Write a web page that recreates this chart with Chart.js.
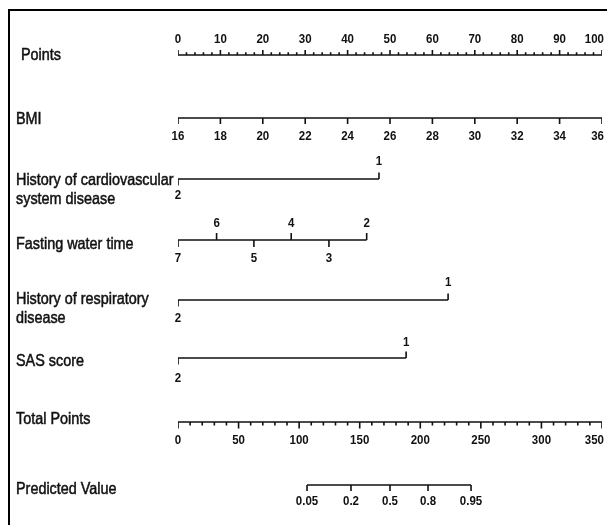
<!doctype html>
<html>
<head>
  <meta charset="utf-8" />
  <title>Nomogram</title>
  <style>
    html, body { margin:0; background:#fff; }
    #wrap { position:relative; width:607px; height:525px; overflow:hidden; }
    #frame { position:absolute; left:8px; top:9px; right:-4px; bottom:-4px;
             border-top:2px solid #000; border-left:2px solid #000; pointer-events:none; }
  </style>
</head>
<body>
  <div id="wrap">
    <canvas id="chart" width="607" height="525"></canvas>
    <div id="frame"></div>
  </div>

  <script src="https://cdn.jsdelivr.net/npm/chart.js@4.4.1/dist/chart.umd.min.js"></script>
  <script>
    // values (points scale 0-100, total points 0-350)
    const pointsTicks = [0, 10, 20, 30, 40, 50, 60, 70, 80, 90, 100];
    const bmiTicks = [16, 18, 20, 22, 24, 26, 28, 30, 32, 34, 36];
    const cardioLabels = ['1', '2'];
    const cardioPoints = [47.4, 0];
    const fastingLabels = ['7', '6', '5', '4', '3', '2'];
    const fastingPoints = [0, 9.1, 17.9, 26.7, 35.6, 44.5];
    const respLabels = ['1', '2'];
    const respPoints = [63.7, 0];
    const sasLabels = ['1', '2'];
    const sasPoints = [53.8, 0];
    const totalTicks = [0, 50, 100, 150, 200, 250, 300, 350];
    const predLabels = ['0.05', '0.2', '0.5', '0.8', '0.95'];
    const predTotal = [106.5, 142.8, 175, 206.4, 241.9];

    const rowTitles = [
      { lines: ['Points'], x: 21, y: [56] },
      { lines: ['BMI'], x: 16, y: [120] },
      { lines: ['History of cardiovascular', 'system disease'], x: 16, y: [181, 200] },
      { lines: ['Fasting water time'], x: 16, y: [245] },
      { lines: ['History of respiratory', 'disease'], x: 16, y: [300, 319] },
      { lines: ['SAS score'], x: 16, y: [362] },
      { lines: ['Total Points'], x: 16, y: [420] },
      { lines: ['Predicted Value'], x: 16, y: [490] }
    ];

    // layout per row: y of the axis line (pixels), tick side (-1 up, 1 down), lengths
    const up = n => Array(n).fill(-1), down = n => Array(n).fill(1);
    const rows = [
      { scale: 'x',  line: 55,  values: pointsTicks, text: pointsTicks.map(String), side: up(11), len: 5, offUp: 15,
        minor: { step: 2, len: 2.7 } },
      { scale: 'xb', line: 118, values: bmiTicks, text: bmiTicks.map(String), side: down(11), len: 6, offDown: 19 },
      { scale: 'x',  line: 179, values: cardioPoints, text: cardioLabels, side: [-1, 1], len: 6.5, offUp: 17, offDown: 17 },
      { scale: 'x',  line: 240, values: fastingPoints, text: fastingLabels, side: [1, -1, 1, -1, 1, -1], len: 7, offUp: 16, offDown: 19 },
      { scale: 'x',  line: 300, values: respPoints, text: respLabels, side: [-1, 1], len: 6.5, offUp: 17, offDown: 19 },
      { scale: 'x',  line: 358, values: sasPoints, text: sasLabels, side: [-1, 1], len: 6.5, offUp: 15, offDown: 21 },
      { scale: 'xt', line: 422, values: totalTicks, text: totalTicks.map(String), side: down(8), len: 6.5, offDown: 19,
        minor: { step: 10, len: 3.5 } },
      { scale: 'xt', line: 485, values: predTotal, text: predLabels, side: down(5), len: 6, offDown: 17 }
    ];

    function rowData(r) {
      const lo = Math.min(...r.values), hi = Math.max(...r.values);
      const d = [{ x: lo, y: r.line }, { x: hi, y: r.line }, { x: hi, y: null }];
      r.values.forEach((v, i) => {
        d.push({ x: v, y: r.line }, { x: v, y: r.line + r.side[i] * r.len }, { x: v, y: null });
      });
      if (r.minor) {
        for (let v = lo; v <= hi + 1e-9; v += r.minor.step) {
          if (r.values.some(t => Math.abs(t - v) < 1e-6)) continue;
          d.push({ x: v, y: r.line }, { x: v, y: r.line + r.side[0] * r.minor.len }, { x: v, y: null });
        }
      }
      return d;
    }

    function drawText(ctx, text, x, y, font, sy, stroke) {
      ctx.save();
      ctx.font = font;
      ctx.translate(x, y);
      ctx.scale(1, sy);
      if (stroke) { ctx.lineWidth = stroke; ctx.strokeText(text, 0, 0); }
      ctx.fillText(text, 0, 0);
      ctx.restore();
    }

    const labelsPlugin = {
      id: 'nomoLabels',
      afterDatasetsDraw(chart) {
        const ctx = chart.ctx, ys = chart.scales.y;
        ctx.save();
        ctx.fillStyle = '#111';
        ctx.strokeStyle = '#111';
        ctx.textBaseline = 'middle';
        ctx.textAlign = 'left';
        rowTitles.forEach(t => t.lines.forEach((s, i) =>
          drawText(ctx, s, t.x, ys.getPixelForValue(t.y[i]), '14.4px "Liberation Sans", Arial, sans-serif', 1.1, 0.45)));

        ctx.textAlign = 'center';
        const tickFont = 'bold 11.5px "Liberation Sans", Arial, sans-serif';
        rows.forEach(r => {
          const xs = chart.scales[r.scale];
          r.values.forEach((v, i) => {
            const off = r.side[i] < 0 ? -r.offUp : r.offDown;
            let px = xs.getPixelForValue(v);
            ctx.font = tickFont;
            const w = ctx.measureText(r.text[i]).width;
            px = Math.min(px, chart.width - 3 - w / 2);
            drawText(ctx, r.text[i], px, ys.getPixelForValue(r.line + off), tickFont, 1.1, 0);
          });
        });
        ctx.restore();
      }
    };

    new Chart(document.getElementById('chart').getContext('2d'), {
      type: 'line',
      data: {
        datasets: rows.map(r => ({
          xAxisID: r.scale,
          yAxisID: 'y',
          data: rowData(r),
          borderColor: '#111',
          borderWidth: 1.6,
          pointRadius: 0,
          spanGaps: false,
          tension: 0
        }))
      },
      options: {
        responsive: false,
        animation: false,
        devicePixelRatio: 1,
        layout: { padding: { left: 178, right: 5, top: 0, bottom: 0 } },
        plugins: { legend: { display: false }, tooltip: { enabled: false } },
        events: [],
        scales: {
          x:  { type: 'linear', min: 0, max: 100, display: false },
          xb: { type: 'linear', min: 16, max: 36, display: false },
          xt: { type: 'linear', min: 0, max: 350, display: false },
          y:  { type: 'linear', min: 0, max: 525, reverse: true, display: false }
        }
      },
      plugins: [labelsPlugin]
    });
  </script>
</body>
</html>
